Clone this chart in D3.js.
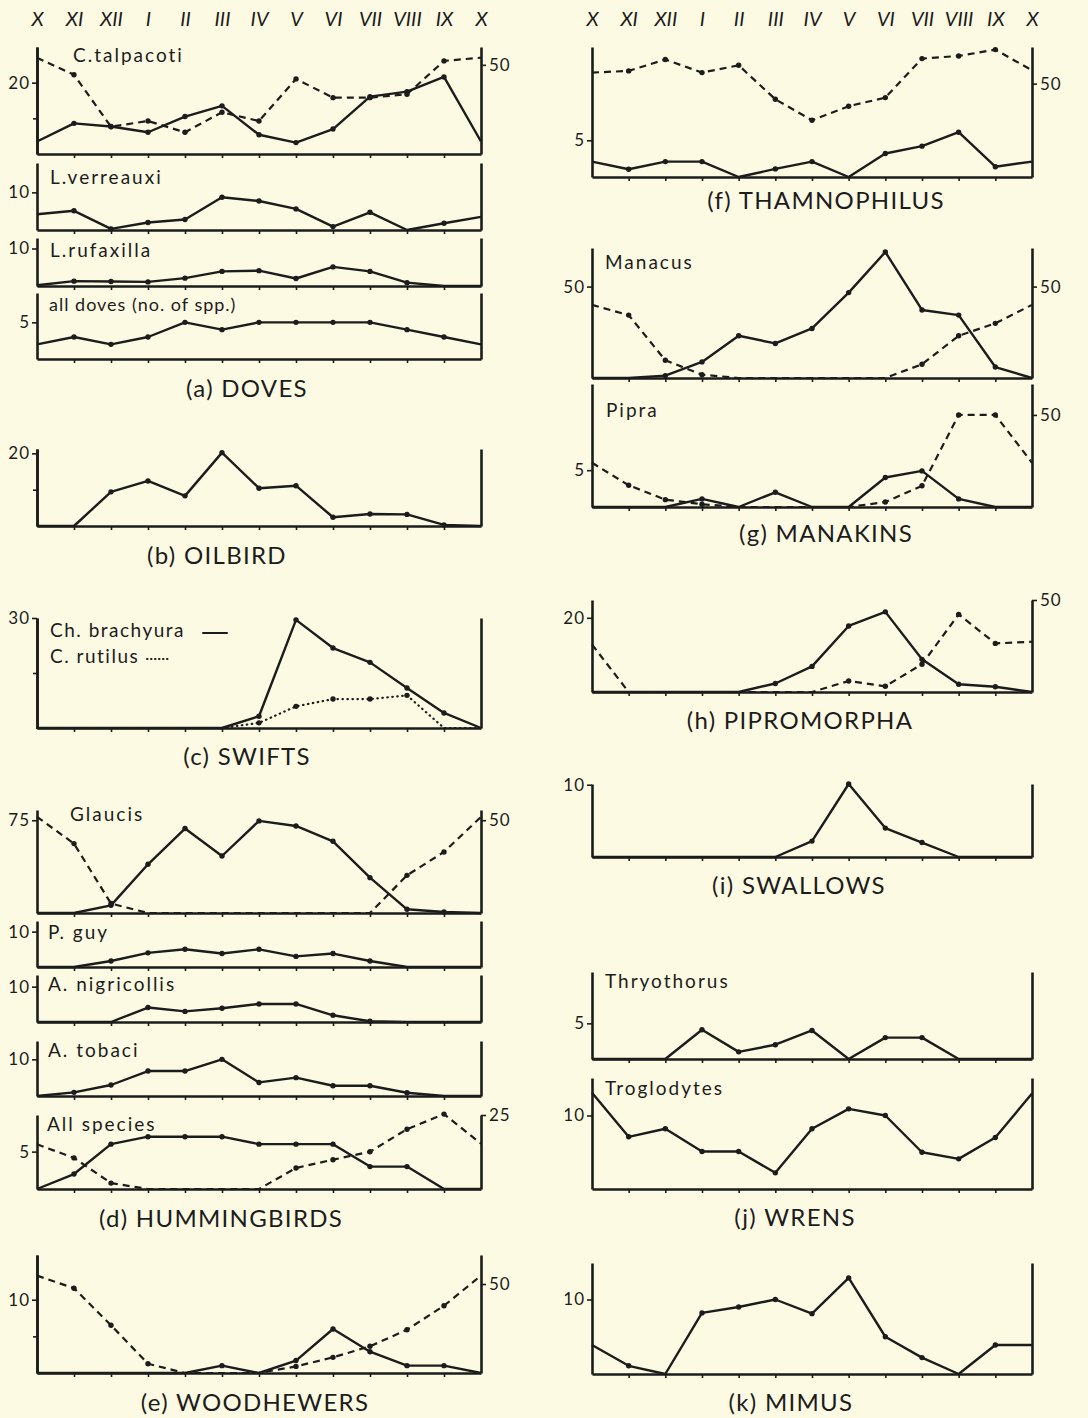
<html>
<head>
    <title>Seasonal counts of Trinidad birds</title>
    <style>
        body{ margin:0; background:#fcfae3; }
        svg{ display:block; }
        .lbl{ font-family: Lato, "Open Sans", sans-serif; fill:#1c1c1c; }
    </style>
</head>
<body>
<script src="https://d3js.org/d3.v7.min.js"></script>
<svg></svg>
<script>

// month labels along the top (Oct -> Oct)
var months = ["X","XI","XII","I","II","III","IV","V","VI","VII","VIII","IX","X"];

var titles = ["(a) DOVES","(b) OILBIRD","(c) SWIFTS","(d) HUMMINGBIRDS","(e) WOODHEWERS",
              "(f) THAMNOPHILUS","(g) MANAKINS","(h) PIPROMORPHA","(i) SWALLOWS","(j) WRENS","(k) MIMUS"];

// (a) doves
var talpacoti   = [3.5, 8.6, 7.7, 6.1, 10.5, 13.5, 5.4, 3.2, 7.0, 16.1, 17.5, 21.6, 3.5];
var talpacotiR  = [54, 44.4, 15.3, 18.5, 12.2, 23.4, 18.5, 42.1, 31.6, 31.6, 33.5, 52.2, 54];
var verreauxi   = [4.2, 5.1, 0.3, 2.0, 2.8, 8.7, 7.7, 5.6, 0.9, 4.7, 0, 1.8, 3.5];
var rufaxilla   = [0.2, 1.3, 1.2, 1.1, 2.1, 3.9, 4.1, 2.0, 5.1, 3.9, 0.9, 0, 0];
var allDoves    = [2, 3, 2, 3, 5, 4, 5, 5, 5, 5, 4, 3, 2];
// (b) oilbird
var oilbird     = [0, 0, 9.4, 12.4, 8.3, 20.2, 10.4, 11.1, 2.4, 3.3, 3.2, 0.3, 0];
// (c) swifts
var brachyura   = [0, 0, 0, 0, 0, 0, 3.2, 29.5, 21.8, 17.9, 10.9, 4.1, 0];
var rutilus     = [0, 0, 0, 0, 0, 0, 1.4, 5.9, 7.9, 7.9, 8.9, 0, 0];
// (d) hummingbirds
var glaucis     = [0, 0, 6.2, 39.4, 68.3, 46.1, 74.5, 70.4, 58, 28.6, 3, 0.8, 0];
var glaucisR    = [51.8, 37.4, 5.1, 0, 0, 0, 0, 0, 0, 0, 20.3, 32.9, 51.8];
var pGuy        = [0, 0, 1.7, 4.0, 5.0, 3.8, 5.0, 3.0, 3.8, 1.7, 0, 0, 0];
var nigricollis = [0, 0, 0, 4.1, 3.0, 3.9, 5.1, 5.1, 1.9, 0.2, 0, 0, 0];
var tobaci      = [0, 1.0, 3.0, 6.8, 6.8, 10, 3.7, 5.0, 2.8, 2.8, 0.9, 0, 0];
var hummers     = [0, 2, 6, 7, 7, 7, 6, 6, 6, 3, 3, 0, 0];
var hummersR    = [15.1, 10.5, 2.0, 0, 0, 0, 0, 7.1, 9.9, 12.6, 20.2, 25.3, 15.3];
// (e) woodhewers
var woodhewers  = [0, 0, 0, 0, 0, 1.0, 0, 1.7, 6.0, 2.9, 1.0, 1.0, 0];
var woodhewersR = [54.7, 47.6, 26.8, 5.2, 0, 0, 0, 3.7, 8.8, 15, 24.3, 37.8, 54.7];
// (f) thamnophilus
var thamno      = [2.1, 1.05, 2.1, 2.1, 0, 1.1, 2.1, 0, 3.2, 4.2, 6.1, 1.4, 2.1];
var thamnoR     = [55.9, 56.8, 62.9, 55.9, 59.8, 41.6, 30.4, 37.9, 42.5, 63.4, 64.8, 68.2, 57.1];
// (g) manakins
var manacus     = [0, 0, 1.3, 8.8, 23.1, 18.9, 27.1, 46.7, 68.9, 37.2, 34.4, 6.0, 0];
var manacusR    = [40, 34.4, 9.7, 1.8, 0, 0, 0, 0, 0, 7.5, 23.1, 29.9, 40];
var pipra       = [0, 0, 0, 1.1, 0, 2.0, 0, 0, 4.0, 4.9, 1.1, 0, 0];
var pipraR      = [24, 11.8, 4.0, 1.5, 0, 0, 0, 0, 2.7, 11.5, 50, 50, 24];
// (h) pipromorpha
var pipromorpha = [0, 0, 0, 0, 0, 2.3, 6.9, 17.8, 21.6, 8.8, 2.1, 1.4, 0];
var pipromorphaR= [25.8, 0, 0, 0, 0, 0, 0, 6.0, 3.1, 15.1, 42.2, 26.4, 27.3];
// (i) swallows
var swallows    = [0, 0, 0, 0, 0, 0, 2.2, 10.1, 4.0, 2.0, 0, 0, 0];
// (j) wrens
var thryothorus = [0, 0, 0, 4.1, 1.0, 2.0, 4.0, 0, 3.0, 3.0, 0, 0, 0];
var troglodytes = [13.1, 7.1, 8.2, 5.1, 5.1, 2.2, 8.2, 10.9, 10, 5.0, 4.1, 7.0, 13.0];
// (k) mimus
var mimus       = [3.9, 1.1, 0, 8.2, 9.0, 10, 8.1, 12.9, 5.0, 2.2, 0, 3.9, 3.9];

var width = 1088, height = 1418;
var ink = "#1c1c1c";

var svg = d3.select("svg").attr("width", width).attr("height", height);
svg.append("rect").attr("width", width).attr("height", height).attr("fill", "#fcfae3");

var cols = [[37, 481], [592, 1032]];
var xs = cols.map(function(c){ return d3.scaleLinear().domain([0, 12]).range(c); });

// layout of every small panel
var panels = [
  {col:0, top:47,  base:154, lmax:30,   rmax:60,   lt:[20], lm:[10], rt:[50], name:"C.talpacoti", nx:73, ny:55,
   series:[{d:talpacoti}, {d:talpacotiR, r:1, s:"dash"}]},
  {col:0, top:163, base:230, lmax:17.8, lt:[10], name:"L.verreauxi", nx:50, ny:177, series:[{d:verreauxi}]},
  {col:0, top:238, base:286, lmax:12.8, lt:[10], name:"L.rufaxilla", nx:50, ny:250, series:[{d:rufaxilla}]},
  {col:0, top:293, base:359, lmax:9,    lt:[5],  name:"all doves  (no. of spp.)", nx:49, ny:305, small:1, series:[{d:allDoves}]},
  {col:0, top:449, base:526, lmax:21.2, lt:[20], lm:[10], series:[{d:oilbird}]},
  {col:0, top:618, base:728, lmax:30,   lt:[30], lm:[15], series:[{d:brachyura}, {d:rutilus, s:"dot"}]},
  {col:0, top:810, base:913, lmax:83.3, rmax:55.5, lt:[75], rt:[50], name:"Glaucis", nx:70, ny:814,
   series:[{d:glaucis}, {d:glaucisR, r:1, s:"dash"}]},
  {col:0, top:921, base:967, lmax:13,   lt:[10], name:"P. guy", nx:48, ny:932, series:[{d:pGuy}]},
  {col:0, top:975, base:1022, lmax:13.3, lt:[10], name:"A. nigricollis", nx:48, ny:984, series:[{d:nigricollis}]},
  {col:0, top:1041, base:1096, lmax:15, lt:[10], name:"A. tobaci", nx:48, ny:1050, series:[{d:tobaci}]},
  {col:0, top:1115, base:1189, lmax:9.9, rmax:25, lt:[5], rt:[25], name:"All species", nx:47, ny:1124,
   series:[{d:hummers}, {d:hummersR, r:1, s:"dash"}]},
  {col:0, top:1255, base:1373, lmax:16.1, rmax:66.3, lt:[10], lm:[5], rt:[50],
   series:[{d:woodhewers}, {d:woodhewersR, r:1, s:"dash"}]},

  {col:1, top:47,  base:177, lmax:17.7, rmax:69.6, lt:[5], rt:[50], series:[{d:thamno}, {d:thamnoR, r:1, s:"dash"}]},
  {col:1, top:248, base:378, lmax:71.1, rmax:71.1, lt:[50], rt:[50], name:"Manacus", nx:605, ny:262,
   series:[{d:manacus}, {d:manacusR, r:1, s:"dash"}]},
  {col:1, top:384, base:507, lmax:16.7, rmax:66.8, lt:[5], rt:[50], name:"Pipra", nx:606, ny:410,
   series:[{d:pipra}, {d:pipraR, r:1, s:"dash"}]},
  {col:1, top:600, base:692, lmax:24.8, rmax:50, lt:[20], rt:[50], series:[{d:pipromorpha}, {d:pipromorphaR, r:1, s:"dash"}]},
  {col:1, top:784, base:857, lmax:10.1, lt:[10], series:[{d:swallows}]},
  {col:1, top:972, base:1059, lmax:12.2, lt:[5], name:"Thryothorus", nx:605, ny:981, series:[{d:thryothorus}]},
  {col:1, top:1078, base:1189, lmax:15.1, lt:[10], name:"Troglodytes", nx:605, ny:1088, series:[{d:troglodytes}]},
  {col:1, top:1263, base:1374, lmax:14.9, lt:[10], series:[{d:mimus}]}
];

var titlePos = [[247,388],[217,555],[247,756],[221,1218],[255,1402],
                [826,200],[826,533],[800,720],[799,885],[795,1217],[791,1402]];

// month names on top of both columns
xs.forEach(function(x){
  var g = svg.append("g").attr("transform", "translate(0,26)")
    .call(d3.axisTop(x).tickValues(d3.range(13)).tickSize(0).tickPadding(0)
      .tickFormat(function(i){ return months[i]; }));
  g.select(".domain").remove();
  g.selectAll("text").attr("class", "lbl").style("font-size", "20px").style("font-style", "italic")
    .attr("fill", ink);
});

function styleAxis(g){
  g.select(".domain").attr("stroke", ink).attr("stroke-width", 2.6);
  g.selectAll(".tick line").attr("stroke", ink).attr("stroke-width", 1.6);
  g.selectAll("text").attr("class", "lbl").style("font-size", "17px").style("letter-spacing", "1px")
    .attr("fill", ink);
  g.attr("font-family", null).attr("font-size", null);
}

panels.forEach(function(p){
  var x = xs[p.col];
  var x0 = cols[p.col][0], x1 = cols[p.col][1];
  var yl = d3.scaleLinear().domain([0, p.lmax]).range([p.base, p.top]);
  var yr = d3.scaleLinear().domain([0, p.rmax || p.lmax]).range([p.base, p.top]);

  // baseline with month ticks
  svg.append("g").attr("transform", "translate(0," + p.base + ")")
    .call(d3.axisBottom(x).tickValues(d3.range(1, 12)).tickSize(4).tickSizeOuter(0).tickFormat(""))
    .call(styleAxis);

  // left axis
  svg.append("g").attr("transform", "translate(" + x0 + ",0)")
    .call(d3.axisLeft(yl).tickValues(p.lt || []).tickSize(5).tickPadding(2).tickSizeOuter(0))
    .call(styleAxis);
  if (p.lm) {
    svg.append("g").attr("transform", "translate(" + x0 + ",0)")
      .call(d3.axisLeft(yl).tickValues(p.lm).tickSize(4).tickSizeOuter(0).tickFormat(""))
      .call(styleAxis);
  }
  // right axis
  svg.append("g").attr("transform", "translate(" + x1 + ",0)")
    .call(d3.axisRight(yr).tickValues(p.rt || []).tickSize(5).tickPadding(3).tickSizeOuter(0))
    .call(styleAxis);

  p.series.forEach(function(s){
    var y = s.r ? yr : yl;
    var line = d3.line().x(function(d, i){ return x(i); }).y(function(d){ return y(d); });
    var path = svg.append("path").datum(s.d)
      .attr("d", line)
      .attr("fill", "none")
      .attr("stroke", ink)
      .attr("stroke-linejoin", "round");
    if (s.s == "dash") {
      path.attr("stroke-width", 2.2).attr("stroke-dasharray", "7,5");
    } else if (s.s == "dot") {
      path.attr("stroke-width", 2.2).attr("stroke-dasharray", "0.5,4.5").attr("stroke-linecap", "round");
    } else {
      path.attr("stroke-width", 2.4);
    }
    svg.append("g").selectAll("circle")
      .data(s.d.map(function(v, i){ return {v:v, i:i}; }).filter(function(d){ return d.v > 0 && d.i > 0 && d.i < 12; }))
      .enter().append("circle")
      .attr("cx", function(d){ return x(d.i); })
      .attr("cy", function(d){ return y(d.v); })
      .attr("r", 2.7)
      .attr("fill", ink);
  });

  if (p.name) {
    svg.append("text").attr("class", "lbl")
      .attr("x", p.nx).attr("y", p.ny).attr("dy", "0.35em")
      .style("font-size", p.small ? "18px" : "19px")
      .style("letter-spacing", p.small ? "1px" : "2px")
      .text(p.name);
  }
});

// swift legend
var leg = [{t:"Ch. brachyura", y:630, s:"solid", lx:[203, 227]}, {t:"C. rutilus", y:656, s:"dot", lx:[147, 171]}];
leg.forEach(function(l){
  svg.append("text").attr("class", "lbl").attr("x", 50).attr("y", l.y).attr("dy", "0.35em")
    .style("font-size", "19px").style("letter-spacing", "1.5px").text(l.t);
  svg.append("line").attr("x1", l.lx[0]).attr("x2", l.lx[1]).attr("y1", l.y + 3).attr("y2", l.y + 3)
    .attr("stroke", ink).attr("stroke-width", 2)
    .attr("stroke-dasharray", l.s == "dot" ? "0.5,3.5" : null)
    .attr("stroke-linecap", "round");
});

// panel titles
titles.forEach(function(t, i){
  svg.append("text").attr("class", "lbl")
    .attr("x", titlePos[i][0]).attr("y", titlePos[i][1]).attr("dy", "0.36em")
    .attr("text-anchor", "middle")
    .style("font-size", "24px")
    .style("letter-spacing", "1.3px")
    .text(t);
});

</script>
</body>
</html>
